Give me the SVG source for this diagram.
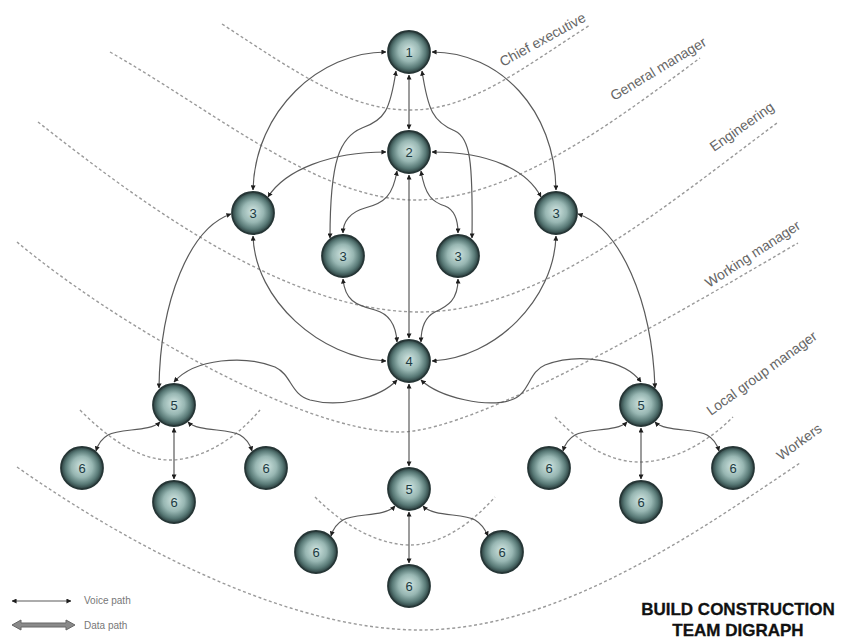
<svg xmlns="http://www.w3.org/2000/svg" width="845" height="639" viewBox="0 0 845 639">
<style>
.lvl{fill:none;stroke:#9a9a9a;stroke-width:1.4;stroke-dasharray:3 2.5}
.con{fill:none;stroke:#5a5a5a;stroke-width:1.2;marker-start:url(#tip);marker-end:url(#tip)}
.ball{fill:url(#ballg);stroke:#263636;stroke-width:1.8}
.num{font-family:"Liberation Sans",Arial,sans-serif;font-size:13px;fill:#1c3a42;text-anchor:middle}
.lab{font-family:"Liberation Sans",Arial,sans-serif;font-size:14px;fill:#666}
.leg{font-family:"Liberation Sans",Arial,sans-serif;font-size:10px;fill:#777}
.ttl{font-family:"Liberation Sans",Arial,sans-serif;font-size:17px;font-weight:bold;fill:#111;stroke:#111;stroke-width:0.3;text-anchor:middle}
</style>
<defs>
<radialGradient id="ballg" cx="50%" cy="50%" r="50%" fx="50%" fy="45%">
<stop offset="0" stop-color="#d2e6e2"/>
<stop offset="0.5" stop-color="#98b7b3"/>
<stop offset="0.8" stop-color="#587976"/>
<stop offset="1" stop-color="#2a3e3e"/>
</radialGradient>
<marker id="tip" viewBox="0 0 6 6" refX="5.5" refY="3" markerWidth="5" markerHeight="5" orient="auto-start-reverse" markerUnits="userSpaceOnUse">
<path d="M0,0 L6,3 L0,6 z" fill="#1e1e1e"/>
</marker>
</defs>
<rect width="845" height="639" fill="#fff"/>
<g id="levels">
<path class="lvl" d="M222,24 C300,75 350,110 410,110 C470,110 520,70 590,25"/>
<path class="lvl" d="M110,52 C220,115 320,200 415,200 C510,200 610,125 700,58"/>
<path class="lvl" d="M38,122 C150,210 290,312 420,312 C540,312 660,210 777,123"/>
<path class="lvl" d="M17,242 C110,320 300,432 400,432 C480,432 700,300 798,243"/>
<path class="lvl" d="M80,410 C110,440 140,460 170,460 C200,460 235,440 260,410"/>
<path class="lvl" d="M315,497 C345,527 380,545 410,545 C440,545 470,525 495,497"/>
<path class="lvl" d="M555,417 C585,447 610,462 640,462 C670,462 705,445 733,417"/>
<path class="lvl" d="M17,467 C150,560 300,630 420,630 C560,630 700,530 800,463"/>
</g>
<g id="level-labels">
<text class="lab" transform="translate(503,67) rotate(-29)">Chief executive</text>
<text class="lab" transform="translate(614,101) rotate(-31)">General manager</text>
<text class="lab" transform="translate(714,152) rotate(-35)">Engineering</text>
<text class="lab" transform="translate(709,288) rotate(-33)">Working manager</text>
<text class="lab" transform="translate(711,416) rotate(-36)">Local group manager</text>
<text class="lab" transform="translate(781,461) rotate(-36)">Workers</text>
</g>
<g id="connectors">
<path class="con" d="M409,75 L409,129"/>
<path class="con" d="M386,52 C320,52 255,110 253,190"/>
<path class="con" d="M432,52 C500,52 555,110 556,190"/>
<path class="con" d="M396,71 C390,110 385,120 362,128 C340,137 330,160 330,238"/>
<path class="con" d="M422,71 C428,110 433,122 455,131 C470,138 473,160 472,238"/>
<path class="con" d="M386,152 C330,152 285,170 268,197"/>
<path class="con" d="M432,152 C490,152 527,170 541,197"/>
<path class="con" d="M397,171 C393,195 385,203 365,208 C350,212 343,222 343,233"/>
<path class="con" d="M421,171 C425,195 432,202 445,206 C455,210 458,222 458,233"/>
<path class="con" d="M409,175 L409,338"/>
<path class="con" d="M253,236 C255,300 320,358 386,361"/>
<path class="con" d="M556,236 C554,300 495,358 432,361"/>
<path class="con" d="M343,279 C345,300 355,305 375,310 C390,314 396,325 397,342"/>
<path class="con" d="M458,279 C458,300 448,306 435,312 C425,317 421,328 421,342"/>
<path class="con" d="M231,214 C190,228 160,300 159,388"/>
<path class="con" d="M578,214 C620,228 652,300 655,388"/>
<path class="con" d="M397,380 C380,398 340,408 310,400 C290,394 292,375 275,367 C245,355 195,358 174,382"/>
<path class="con" d="M421,380 C440,398 488,408 511,400 C530,394 528,372 545,365 C580,352 625,360 641,382"/>
<path class="con" d="M409,384 L409,466"/>
<path class="con" d="M160,422 C150,432 120,428 108,435 C101,439 98,444 96,451"/>
<path class="con" d="M174,428 L174,479"/>
<path class="con" d="M188,422 C198,432 228,428 240,435 C247,439 250,444 252,451"/>
<path class="con" d="M395,506 C385,517 355,513 343,520 C336,524 333,529 331,536"/>
<path class="con" d="M409,512 L409,563"/>
<path class="con" d="M423,506 C433,517 463,513 475,520 C482,524 485,529 488,536"/>
<path class="con" d="M627,422 C617,432 587,428 575,435 C568,439 565,444 563,451"/>
<path class="con" d="M641,428 L641,479"/>
<path class="con" d="M655,422 C665,432 695,428 707,435 C714,439 717,444 719,451"/>
</g>
<g id="n1"><circle class="ball" cx="409" cy="52" r="21"/><text class="num" x="409" y="57">1</text></g>
<g id="n2"><circle class="ball" cx="409" cy="152" r="21"/><text class="num" x="409" y="157">2</text></g>
<g id="n3a"><circle class="ball" cx="253" cy="213" r="21"/><text class="num" x="253" y="218">3</text></g>
<g id="n3b"><circle class="ball" cx="343" cy="256" r="21"/><text class="num" x="343" y="261">3</text></g>
<g id="n3c"><circle class="ball" cx="458" cy="256" r="21"/><text class="num" x="458" y="261">3</text></g>
<g id="n3d"><circle class="ball" cx="556" cy="213" r="21"/><text class="num" x="556" y="218">3</text></g>
<g id="n4"><circle class="ball" cx="409" cy="361" r="21"/><text class="num" x="409" y="366">4</text></g>
<g id="n5a"><circle class="ball" cx="174" cy="405" r="21"/><text class="num" x="174" y="410">5</text></g>
<g id="n5b"><circle class="ball" cx="409" cy="489" r="21"/><text class="num" x="409" y="494">5</text></g>
<g id="n5c"><circle class="ball" cx="641" cy="405" r="21"/><text class="num" x="641" y="410">5</text></g>
<g id="n6a"><circle class="ball" cx="82" cy="468" r="21"/><text class="num" x="82" y="473">6</text></g>
<g id="n6b"><circle class="ball" cx="174" cy="502" r="21"/><text class="num" x="174" y="507">6</text></g>
<g id="n6c"><circle class="ball" cx="266" cy="468" r="21"/><text class="num" x="266" y="473">6</text></g>
<g id="n6d"><circle class="ball" cx="316" cy="552" r="21"/><text class="num" x="316" y="557">6</text></g>
<g id="n6e"><circle class="ball" cx="409" cy="586" r="21"/><text class="num" x="409" y="591">6</text></g>
<g id="n6f"><circle class="ball" cx="502" cy="552" r="21"/><text class="num" x="502" y="557">6</text></g>
<g id="n6g"><circle class="ball" cx="549" cy="468" r="21"/><text class="num" x="549" y="473">6</text></g>
<g id="n6h"><circle class="ball" cx="641" cy="502" r="21"/><text class="num" x="641" y="507">6</text></g>
<g id="n6i"><circle class="ball" cx="733" cy="468" r="21"/><text class="num" x="733" y="473">6</text></g>
<g id="legend">
<path class="con" d="M12,601 L71,601"/>
<text class="leg" x="84" y="604">Voice path</text>
<path d="M12,625 L21,620 L21,623 L66,623 L66,620 L75,625 L66,630 L66,627 L21,627 L21,630 Z" fill="#8a8a8a" stroke="#666" stroke-width="1"/>
<text class="leg" x="84" y="629">Data path</text>
</g>
<g id="title">
<text class="ttl" x="738" y="615">BUILD CONSTRUCTION</text>
<text class="ttl" x="738" y="636">TEAM DIGRAPH</text>
</g>
</svg>
